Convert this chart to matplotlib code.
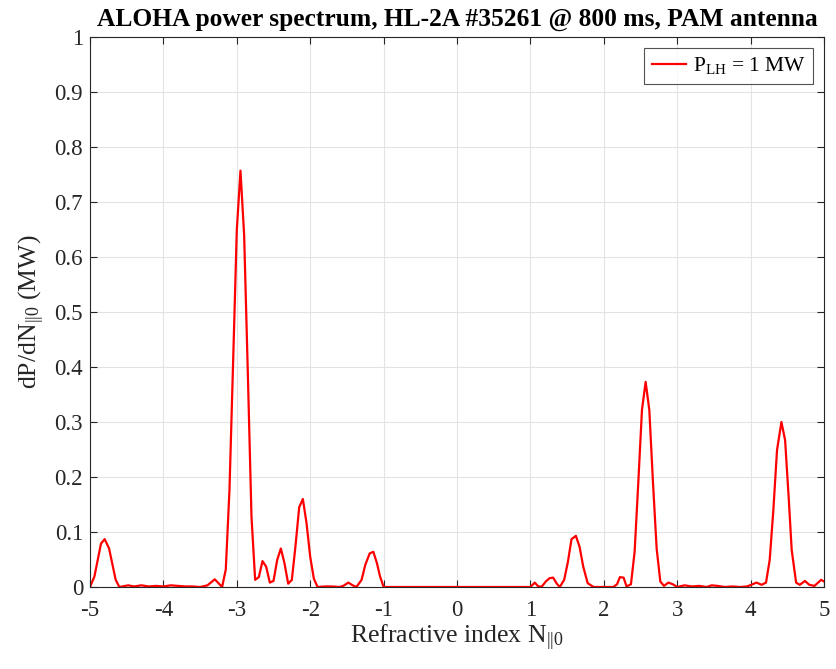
import numpy as np
import matplotlib
matplotlib.use("Agg")
import matplotlib.pyplot as plt

# spectrum (N_par, dP/dN in MW)
n_par = [-5.00, -4.94, -4.85, -4.80, -4.74, -4.65, -4.60, -4.48, -4.40, -4.30, -4.20,
         -4.10, -4.00, -3.90, -3.80, -3.70, -3.60, -3.50, -3.40, -3.30, -3.20, -3.15,
         -3.10, -3.05, -3.00, -2.95, -2.90, -2.85, -2.80, -2.75, -2.70, -2.65, -2.60,
         -2.55, -2.50, -2.45, -2.40, -2.35, -2.30, -2.25, -2.20, -2.15, -2.10, -2.05,
         -2.00, -1.95, -1.90, -1.80, -1.70, -1.60, -1.55, -1.48, -1.42, -1.37, -1.30,
         -1.25, -1.19, -1.14, -1.09, -1.05, -1.00, 0.00, 1.00, 1.06, 1.10, 1.15, 1.21,
         1.26, 1.31, 1.36, 1.40, 1.46, 1.51, 1.56, 1.62, 1.67, 1.72, 1.78, 1.86, 2.00,
         2.13, 2.18, 2.22, 2.27, 2.31, 2.37, 2.42, 2.47, 2.52, 2.57, 2.62, 2.67, 2.72,
         2.77, 2.82, 2.88, 2.94, 3.00, 3.10, 3.20, 3.30, 3.40, 3.47, 3.55, 3.65, 3.75,
         3.86, 3.95, 4.01, 4.08, 4.15, 4.21, 4.26, 4.31, 4.36, 4.42, 4.47, 4.52, 4.56,
         4.62, 4.67, 4.74, 4.80, 4.87, 4.92, 4.96, 5.00]
dp_dn = [0.000, 0.019, 0.079, 0.087, 0.070, 0.013, 0.000, 0.003, 0.001, 0.003, 0.001,
         0.002, 0.001, 0.003, 0.002, 0.001, 0.001, 0.000, 0.003, 0.014, 0.000, 0.032,
         0.176, 0.410, 0.649, 0.757, 0.640, 0.390, 0.128, 0.013, 0.018, 0.047, 0.037,
         0.008, 0.011, 0.049, 0.070, 0.043, 0.006, 0.013, 0.075, 0.145, 0.160, 0.116,
         0.055, 0.015, 0.000, 0.001, 0.001, 0.000, 0.002, 0.008, 0.003, 0.000, 0.013,
         0.040, 0.061, 0.064, 0.043, 0.020, 0.000, 0.000, 0.000, 0.008, 0.002, 0.000, 0.010,
         0.016, 0.017, 0.006, 0.000, 0.013, 0.045, 0.087, 0.093, 0.073, 0.037, 0.007, 0.000, 0.000,
         0.000, 0.005, 0.018, 0.017, 0.001, 0.005, 0.064, 0.190, 0.322, 0.373, 0.322, 0.190, 0.070,
         0.010, 0.002, 0.008, 0.005, 0.000, 0.003, 0.001, 0.002, 0.000, 0.003, 0.002, 0.000, 0.001,
         0.000, 0.001, 0.004, 0.008, 0.004, 0.008, 0.049, 0.140, 0.249, 0.300, 0.267, 0.160, 0.067,
         0.008, 0.004, 0.011, 0.004, 0.002, 0.008, 0.013, 0.010]

x_ticks = np.arange(-5, 6, 1)
y_ticks = np.round(np.arange(0, 1.01, 0.1), 1)

plt.rcParams['font.family'] = ['Liberation Serif', 'DejaVu Serif']
plt.rcParams['mathtext.fontset'] = 'custom'
plt.rcParams['mathtext.rm'] = 'Liberation Serif'
plt.rcParams['mathtext.it'] = 'Liberation Serif:italic'
plt.rcParams['axes.unicode_minus'] = False

fig = plt.figure(figsize=(8.36, 6.69), dpi=100)
ax = fig.add_axes([90 / 836, 1 - 587 / 669, 734 / 836, 550 / 669])

ax.plot(n_par, dp_dn, color='#ff0000', linewidth=1.6, label=r'P$_\mathrm{LH}$ = 1 MW')

ax.set_xlim(-5, 5)
ax.set_ylim(0, 1)
ax.set_xticks(x_ticks)
ax.set_yticks(y_ticks)
ax.set_xticklabels([str(v) for v in x_ticks])
ax.set_yticklabels(['0' if v == 0 else ('1' if v == 1 else f'{v:g}') for v in y_ticks])
ax.grid(True, color='#e3e3e3', linewidth=0.8)
ax.set_axisbelow(True)
ax.tick_params(direction='in', top=True, right=True, length=5, width=0.8,
               labelsize=16.5, colors='#262626')
ax.tick_params(axis='x', pad=9)
ax.tick_params(axis='y', pad=5)
for s in ax.spines.values():
    s.set_color('#262626')
    s.set_linewidth(0.8)

ax.set_title('ALOHA power spectrum, HL-2A #35261 @ 800 ms, PAM antenna',
             fontsize=18.4, fontweight='bold', pad=8)
ax.set_xlabel(r'Refractive index N$_\mathrm{||0}$', fontsize=18.5, labelpad=2,
              color='#262626')
ax.set_ylabel(r'dP/dN$_\mathrm{||0}$ (MW)', fontsize=18.5, labelpad=5,
              color='#262626')

leg = ax.legend(loc='upper right', fontsize=15.5, frameon=True, fancybox=False,
                edgecolor='#262626', handlelength=1.6, borderaxespad=0.5,
                handletextpad=0.3, borderpad=0.35)
leg.get_frame().set_linewidth(0.8)

fig.savefig('out.png', dpi=100)
